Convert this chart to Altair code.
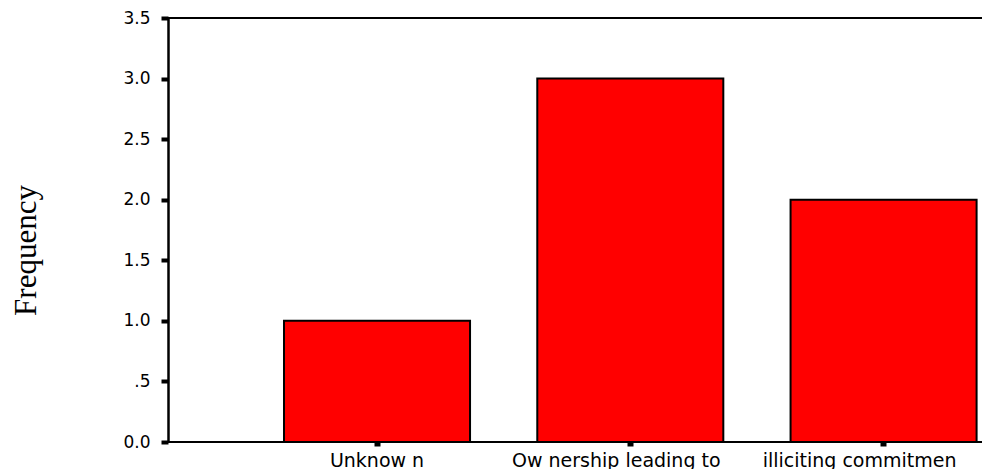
import altair as alt
import pandas as pd

categories = ["Unknow n", "Ow nership leading to", "illiciting commitmen"]
frequencies = [1, 3, 2]
y_tick_values = [0.0, 0.5, 1.0, 1.5, 2.0, 2.5, 3.0, 3.5]

df = pd.DataFrame({"category": categories, "frequency": frequencies})

W = 814
H = 424

x_enc = alt.X(
    "category:N",
    sort=categories,
    scale=alt.Scale(range=[82.4, 842.2], paddingInner=0.2655, paddingOuter=0.1327),
    axis=alt.Axis(
        title=None,
        domain=False,
        grid=False,
        labelAngle=0,
        labelFont="DejaVu Sans",
        labelFontSize=19,
        labelColor="black",
        labelPadding=5,
        labelLimit=0,
        labelOverlap=False,
        labelOffset={
            "condition": [
                {"test": "datum.value === 'Ow nership leading to'", "value": -14},
                {"test": "datum.value === 'illiciting commitmen'", "value": -24},
            ],
            "value": 0,
        },
        tickColor="black",
        tickSize=4,
        tickWidth=6,
    ),
)

y_enc = alt.Y(
    "frequency:Q",
    scale=alt.Scale(domain=[0, 3.5], nice=False, zero=True),
    axis=alt.Axis(
        title="Frequency",
        values=y_tick_values,
        labelExpr="datum.value == 0.5 ? '.5' : format(datum.value, '.1f')",
        grid=False,
        domainColor="black",
        domainWidth=2.5,
        tickColor="black",
        tickSize=7,
        tickWidth=4,
        labelFont="DejaVu Sans",
        labelFontSize=17,
        labelColor="black",
        labelPadding=11,
        titleFont="Liberation Serif",
        titleFontSize=31,
        titleFontWeight="normal",
        titleColor="black",
        titleX=-133,
        titleY=232,
        titleAngle=270,
        titleAlign="center",
        titleBaseline="alphabetic",
    ),
)

bars = alt.Chart(df).mark_bar(fill="#ff0000", stroke="black", strokeWidth=2).encode(
    x=x_enc, y=y_enc
)

top_line = alt.Chart(df).mark_rule(color="black", strokeWidth=2).encode(
    x=alt.value(0), x2=alt.value(W), y=alt.value(0)
)
bottom_line = alt.Chart(df).mark_rule(color="black", strokeWidth=2).encode(
    x=alt.value(0), x2=alt.value(W), y=alt.value(H)
)

chart = (
    alt.layer(bars, top_line, bottom_line)
    .properties(
        width=W,
        height=H,
        autosize=alt.AutoSizeParams(type="none"),
        padding={"left": 160, "top": 10, "right": 0, "bottom": 27},
        background="white",
    )
    .configure_view(stroke=None)
)

chart.save("out.html", embed_options={"renderer": "svg", "actions": False})
